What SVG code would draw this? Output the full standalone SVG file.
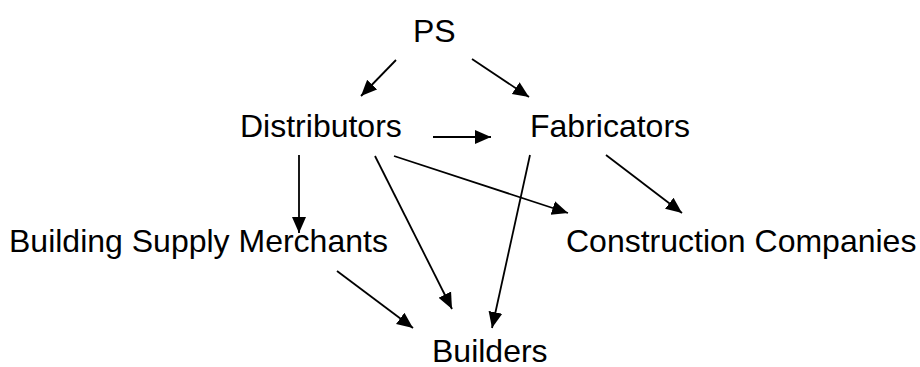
<svg xmlns="http://www.w3.org/2000/svg" width="920" height="367" viewBox="0 0 920 367">
<defs>
<style>
text{font-family:"Liberation Sans",Arial,sans-serif;font-size:32px;fill:#000}
.c line{stroke:#000;stroke-width:1.8;marker-end:url(#ah)}
</style>
<marker id="ah" markerUnits="userSpaceOnUse" markerWidth="17" markerHeight="16" refX="16" refY="8" orient="auto" viewBox="0 0 17 16">
<path d="M0,1 L16,8 L0,15 Z" fill="#000"/>
</marker>
</defs>
<rect width="920" height="367" fill="#fff"/>
<g id="ps"><text x="413" y="42">PS</text></g>
<g id="distributors"><text x="240" y="137">Distributors</text></g>
<g id="fabricators"><text x="530" y="137">Fabricators</text></g>
<g id="building-supply-merchants"><text x="9" y="252">Building Supply Merchants</text></g>
<g id="construction-companies"><text x="566" y="252">Construction Companies</text></g>
<g id="builders"><text x="432" y="362">Builders</text></g>
<g class="c" id="connectors">
<line x1="396" y1="60" x2="361" y2="96"/>
<line x1="472" y1="59" x2="529" y2="97"/>
<line x1="433" y1="137" x2="491" y2="137"/>
<line x1="299" y1="155" x2="299" y2="233"/>
<line x1="394" y1="156" x2="568" y2="213"/>
<line x1="606" y1="155" x2="682" y2="213"/>
<line x1="530" y1="155" x2="492" y2="328"/>
<line x1="375" y1="156" x2="452" y2="309"/>
<line x1="337" y1="271" x2="413" y2="328"/>
</g>
</svg>
